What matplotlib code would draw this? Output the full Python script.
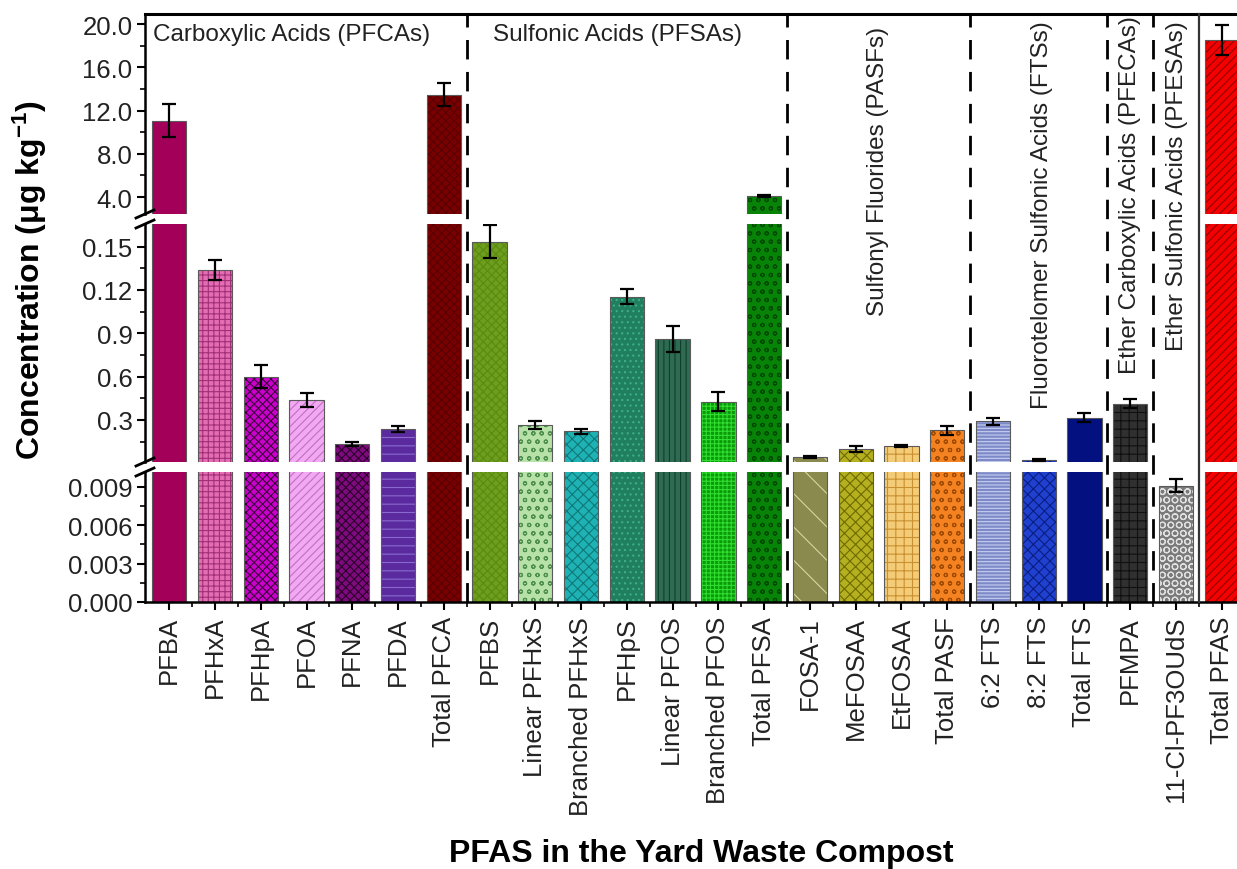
import numpy as np
import matplotlib
matplotlib.use("Agg")
import matplotlib.pyplot as plt
from matplotlib.lines import Line2D
from matplotlib.transforms import blended_transform_factory

plt.rcParams['font.family'] = ['Liberation Sans', 'DejaVu Sans']
plt.rcParams['mathtext.fontset'] = 'custom'
plt.rcParams['mathtext.rm'] = 'Liberation Sans'
plt.rcParams['mathtext.bf'] = 'Liberation Sans:bold'
plt.rcParams['mathtext.default'] = 'regular'
plt.rcParams['hatch.linewidth'] = 0.8

# ---- data (µg/kg) ----
compounds = ["PFBA", "PFHxA", "PFHpA", "PFOA", "PFNA", "PFDA", "Total PFCA",
             "PFBS", "Linear PFHxS", "Branched PFHxS", "PFHpS", "Linear PFOS",
             "Branched PFOS", "Total PFSA",
             "FOSA-1", "MeFOSAA", "EtFOSAA", "Total PASF",
             "6:2 FTS", "8:2 FTS", "Total FTS",
             "PFMPA", "11-Cl-PF3OUdS", "Total PFAS"]
conc = [11.06, 0.134, 0.060, 0.044, 0.0134, 0.0238, 13.46,
        0.1535, 0.0265, 0.0222, 0.1154, 0.0861, 0.0427, 4.07,
        0.0043, 0.0101, 0.0118, 0.0228,
        0.0290, 0.0024, 0.0315,
        0.0414, 0.0091, 18.5]
err = [1.50, 0.0070, 0.0080, 0.0048, 0.0012, 0.0020, 1.05,
       0.0115, 0.0030, 0.0018, 0.0053, 0.0090, 0.0065, 0.08,
       0.0006, 0.0022, 0.0008, 0.0033,
       0.0027, 0.0005, 0.0030,
       0.0030, 0.0005, 1.40]
lower_panel_only = ["11-Cl-PF3OUdS"]

group_edges = [6.5, 13.5, 17.5, 20.5, 21.5]
total_edge = 22.5
group_names = ["Carboxylic Acids (PFCAs)", "Sulfonic Acids (PFSAs)",
               "Sulfonyl Fluorides (PASFs)", "Fluorotelomer Sulfonic Acids (FTSs)",
               "Ether Carboxylic Acids (PFECAs)", "Ether Sulfonic Acids (PFESAs)"]

# ---- styles ----
bar_colors = ["#A3005A", "#E46CB2", "#CC00CC", "#F2A8F2", "#7E0A7E", "#5B2A9E", "#780000",
              "#6E9E1E", "#B6E2A8", "#1FB2B4", "#1F7F5E", "#2E6B52", "#0A9A0A", "#078407",
              "#8A8A4E", "#B4B020", "#F4CC78", "#F58220",
              "#7C88C8", "#2040D0", "#021080",
              "#303030", "#7A7A7A", "#F40000"]
hatch_colors = ["#930050", "#A03078", "#3A003A", "#C070C0", "#2A002A", "#8A6AD0", "#5A0000",
                "#5A8A10", "#4E8E4E", "#107878", "#3FAF8A", "#0F3F2A", "#30DD30", "#024A02",
                "#D6D6A0", "#6E6A00", "#C89030", "#A04A00",
                "#C8D0F0", "#0A1E80", "#000A60",
                "#101010", "#E0E0E0", "#900000"]
hatches = ["", "+++", "xxxx", "////", "xxxx", "--", "xxxx",
           "xxxx", "oo", "xxx", "...", "|||", "++++", "oo",
           "\\", "xxx", "++", "oo",
           "-----", "xxx", "",
           "++", "OO", "////"]

x = np.arange(len(compounds))
conc = np.array(conc)
err = np.array(err)
low_only = np.array([c in lower_panel_only for c in compounds])

W, H = 1237, 870
fig = plt.figure(figsize=(W / 100, H / 100), dpi=100)

left = 145 / W
width = (1246 - 145) / W
def px_axes(y_top, y_bot):
    return fig.add_axes([left, 1 - y_bot / H, width, (y_bot - y_top) / H])

ax_top = px_axes(15, 215)
ax_mid = px_axes(225, 463)
ax_low = px_axes(473, 603)

ax_top.set_ylim(2.43, 20.93)
ax_mid.set_ylim(0.0009, 0.1657)
ax_low.set_ylim(0, 0.01017)

bw = 0.75
for ax in (ax_top, ax_mid, ax_low):
    ax.set_xlim(-0.53, 23.53)
    if ax is ax_low:
        h = np.where(low_only, conc, ax.get_ylim()[1] * 2)
        emask = low_only
    else:
        h = np.where(low_only, 0, conc)
        emask = ~low_only
    for i in range(len(x)):
        ax.bar(x[i], h[i], width=bw, color=bar_colors[i], hatch=hatches[i],
               edgecolor=hatch_colors[i], linewidth=0)
    ax.bar(x, h, width=bw, fill=False, edgecolor="#5a5a5a", linewidth=0.8)
    ax.errorbar(x[emask], conc[emask], yerr=err[emask], fmt="none", ecolor="black",
                elinewidth=1.6, capsize=5, capthick=1.6)

    for s in ("top", "bottom", "right"):
        ax.spines[s].set_visible(False)
    ax.spines["left"].set_linewidth(1.8)
    ax.tick_params(axis="y", direction="out", length=6, width=1.5, labelsize=18.5,
                   pad=3, labelcolor="#222222")
    ax.tick_params(axis="y", which="minor", direction="out", length=3.5, width=1.2)
    if ax is not ax_low:
        ax.tick_params(axis="x", bottom=False, labelbottom=False)

ax_top.spines["top"].set_visible(True)
ax_top.spines["top"].set_linewidth(2.2)
ax_low.spines["bottom"].set_visible(True)
ax_low.spines["bottom"].set_linewidth(1.8)

ax_top.set_yticks([4, 8, 12, 16, 20])
ax_top.set_yticklabels(["4.0", "8.0", "12.0", "16.0", "20.0"])
ax_top.set_yticks([6, 10, 14, 18], minor=True)

ax_mid.set_yticks([0.03, 0.06, 0.09, 0.12, 0.15])
ax_mid.set_yticklabels(["0.3", "0.6", "0.9", "0.12", "0.15"])
ax_mid.set_yticks([0.015, 0.045, 0.075, 0.105, 0.135], minor=True)

ax_low.set_yticks([0, 0.003, 0.006, 0.009])
ax_low.set_yticklabels(["0.000", "0.003", "0.006", "0.009"])
ax_low.set_yticks([0.0015, 0.0045, 0.0075], minor=True)

ax_low.set_xticks(x)
ax_low.set_xticklabels(compounds, rotation=90, fontsize=18.5, color="#222222")
ax_low.set_xticks(x[:-1] + 0.5, minor=True)
ax_low.tick_params(axis="x", direction="out", length=6, width=1.5, pad=4)
ax_low.tick_params(axis="x", which="minor", direction="out", length=3.5, width=1.2)

# group separators spanning all panels
tr = blended_transform_factory(ax_low.transData, fig.transFigure)
for xe in group_edges:
    fig.add_artist(Line2D([xe, xe], [1 - 603 / H, 1 - 15 / H], transform=tr,
                          color="black", linewidth=2.0, linestyle=(0, (7, 4.5))))
fig.add_artist(Line2D([total_edge, total_edge], [1 - 603 / H, 1 - 15 / H], transform=tr,
                      color="#333333", linewidth=1.6))

# break marks on the left spine
for yb in (215, 225, 463, 473):
    fig.add_artist(Line2D([(145 - 9) / W, (145 + 9) / W], [1 - (yb + 4) / H, 1 - (yb - 4) / H],
                          color="black", linewidth=2.0))

# group labels
fig.text(153 / W, 1 - 24 / H, group_names[0], fontsize=17.5, ha="left", va="top", color="#222222")
fig.text(493 / W, 1 - 24 / H, group_names[1], fontsize=17.5, ha="left", va="top", color="#222222")
for xp, yp, name in [(878, 27, group_names[2]), (1042, 21, group_names[3]),
                     (1130, 16, group_names[4]), (1177, 21, group_names[5])]:
    fig.text(xp / W, 1 - yp / H, name, fontsize=17.5, rotation=90, ha="center", va="top",
             color="#222222")

fig.text(30 / W, 1 - 280 / H, "Concentration (μg kg$^{-1}$)", rotation=90, fontsize=23,
         fontweight="bold", ha="center", va="center")
fig.text(701 / W, 1 - 854 / H, "PFAS in the Yard Waste Compost", fontsize=23,
         fontweight="bold", ha="center", va="center")

fig.savefig("out.png", dpi=100)
